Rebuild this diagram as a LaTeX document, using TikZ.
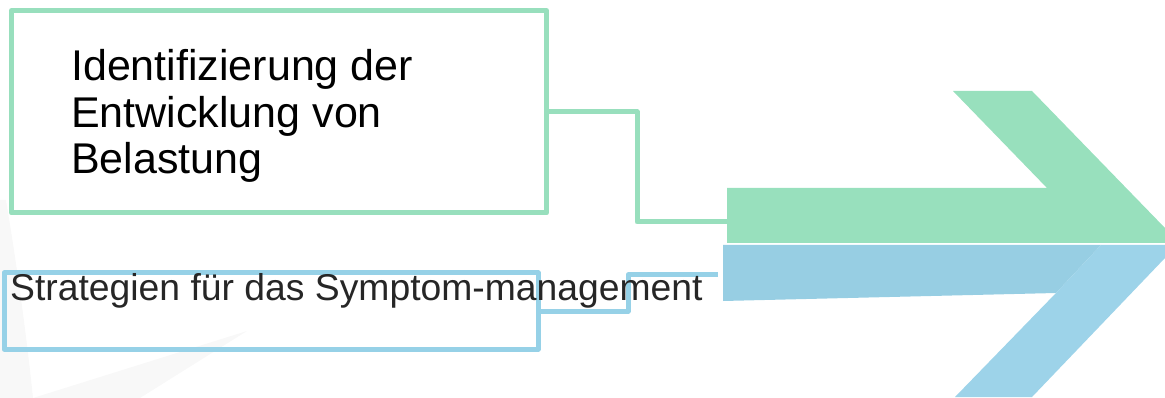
\documentclass[tikz,border=0pt]{standalone}
\usepackage{fontspec}
\setmainfont{Liberation Sans}
\usetikzlibrary{calc}
\definecolor{gbord}{RGB}{152,223,189}
\definecolor{bbord}{RGB}{150,209,231}
\definecolor{garrow}{RGB}{152,224,189}
\definecolor{bbody}{RGB}{151,206,227}
\definecolor{bhead}{RGB}{157,211,233}
\definecolor{txtdark}{RGB}{38,38,38}
\definecolor{faint}{RGB}{248,248,248}
\tikzset{
  gbox/.style={draw=gbord, line width=5pt, line join=round, inner sep=0pt, fill=white},
  bbox/.style={draw=bbord, line width=5pt, line join=round, inner sep=0pt},
  gline/.style={draw=gbord, line width=5pt, line join=round},
  bline/.style={draw=bbord, line width=5pt, line join=round},
  bigtext/.style={inner sep=0pt, anchor=north west, align=left, font=\fontsize{43}{46.5}\selectfont, text=black},
  midtext/.style={inner sep=0pt, anchor=base west, font=\fontsize{37.3}{42}\selectfont, text=txtdark}
}
\begin{document}
\begin{tikzpicture}[x=1pt, y=-1pt]
\useasboundingbox (0,0) rectangle (1165,398);
% faint background watermark
\fill[faint] (0,200) -- (6,200) .. controls (16,260) and (26,330) .. (33,398) -- (0,398) -- cycle;
\fill[faint] (33,398) -- (247,331) -- (140,398) -- cycle;
% arrows
\fill[garrow] (727,188) -- (1047,188) -- (953,91) -- (1032,91) -- (1165,228) -- (1165,243) -- (727,243) -- cycle;
\fill[bbody] (723,245) -- (1101,245) -- (1056,293) -- (723,301) -- cycle;
\fill[bhead] (1101,245) -- (1165,245) -- (1165,258) -- (1032,397) -- (955,397) -- (1056,293) -- cycle;
\coordinate (gin) at (727,222);
\coordinate (bin) at (718,275);
% boxes
\node[gbox, minimum width=535pt, minimum height=202.5pt] (box1) at (279,111.75) {};
\node[bbox, minimum width=534pt, minimum height=76pt] (box2) at (271,311) {};
% connectors
\draw[gline] (box1.east) -| (637,222) -- (gin);
\draw[bline] (box2.east) -| (628,275) -- (bin);
% texts
\node[bigtext] (t1) at (71,49.2) {Identifizierung der\\Entwicklung von\\Belastung};
\node[midtext] (t2) at (10,300) {Strategien für das Symptom-management};
\end{tikzpicture}
\end{document}
